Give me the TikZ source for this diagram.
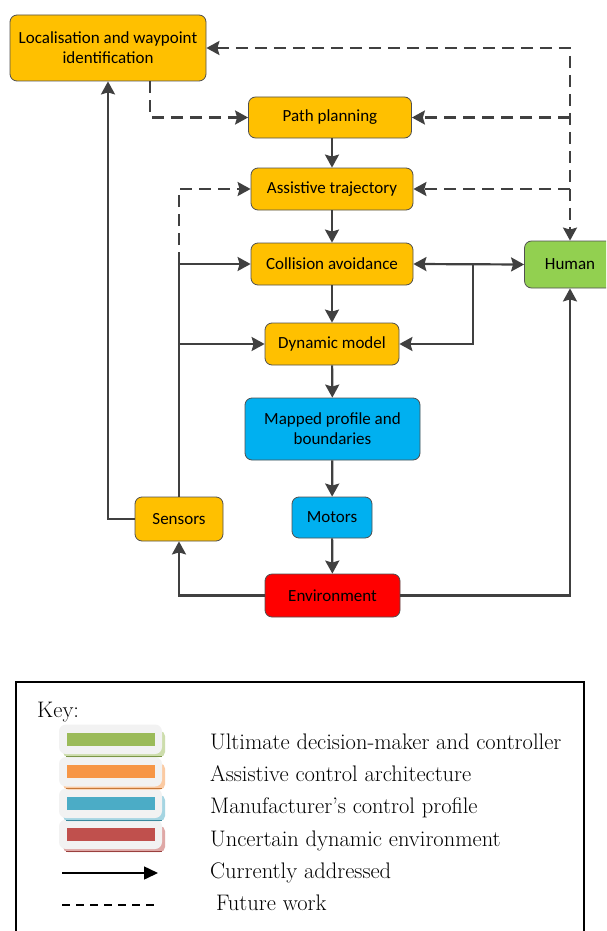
\documentclass[tikz,border=0pt]{standalone}
\usepackage{fontspec}
\setsansfont{Carlito}
\usetikzlibrary{arrows.meta,calc}
\definecolor{ln}{HTML}{404040}
\definecolor{bd}{HTML}{505050}
\definecolor{cyel}{HTML}{FFC000}
\definecolor{cgrn}{HTML}{92D050}
\definecolor{cblu}{HTML}{00B0F0}
\definecolor{cred}{HTML}{FF0000}
\definecolor{kgrn}{HTML}{9BBB59}
\definecolor{kora}{HTML}{F79646}
\definecolor{kblu}{HTML}{4BACC6}
\definecolor{kred}{HTML}{C0504D}
\definecolor{kgray}{HTML}{F2F2F2}
\begin{document}
\begin{tikzpicture}[x=1pt,y=-1pt,
  >={Stealth[length=13pt,width=14pt,inset=2pt]},
  box/.style={draw=bd, line width=0.8pt, rounded corners=7pt, align=center,
    font=\sffamily\fontsize{17}{20}\selectfont, inner sep=0pt},
  cur/.style={draw=ln, line width=2.2pt},
  fut/.style={draw=ln, line width=2.2pt, dash pattern=on 12pt off 7pt},
  keytext/.style={anchor=base west, inner sep=0pt, font=\rmfamily\fontsize{22.5}{26}\selectfont}
]
\clip (0,0) rectangle (606,931);
\fill[white] (0,0) rectangle (606,931);

% nodes
\node[box, fill=cyel, minimum width=196pt, minimum height=66pt] (loc) at (108,48) {Localisation and waypoint\\identification};
\node[box, fill=cyel, minimum width=163pt, minimum height=41pt] (path) at (330,117.5) {Path planning};
\node[box, fill=cyel, minimum width=162pt, minimum height=42pt] (assist) at (332,189) {Assistive trajectory};
\node[box, fill=cyel, minimum width=162pt, minimum height=42pt] (coll) at (332,264) {Collision avoidance};
\node[box, fill=cgrn, minimum width=91pt, minimum height=47pt] (human) at (570,264.5) {Human};
\node[box, fill=cyel, minimum width=134pt, minimum height=42pt] (dyn) at (332,344) {Dynamic model};
\node[box, fill=cblu, minimum width=175pt, minimum height=62pt] (mapped) at (332.5,429) {Mapped profile and\\boundaries};
\node[box, fill=cblu, minimum width=80pt, minimum height=41pt] (motors) at (332,517.5) {Motors};
\node[box, fill=cyel, minimum width=88pt, minimum height=44pt] (sens) at (179,519) {Sensors};
\node[box, fill=cred, minimum width=135pt, minimum height=43pt] (env) at (332.5,595.5) {Environment};

\coordinate (hj) at (570,48);
\coordinate (cj) at (473,264);

% dashed (future work)
\draw[fut,<->] (loc.east) -- (hj) -- (human.north);
\draw[fut,->] (hj |- path.east) -- (path.east);
\draw[fut,->] (hj |- assist.east) -- (assist.east);
\draw[fut,->] ([xshift=42pt]loc.south) |- (path.west);
\draw[fut,->] (sens.north |- coll.west) |- (assist.west);

% solid (currently addressed)
\draw[cur] (sens.north) -- (sens.north |- coll.west);
\draw[cur,->] (sens.north |- coll.west) -- (coll.west);
\draw[cur,->] (sens.north |- dyn.west) -- (dyn.west);
\draw[cur,->] (sens.west) -| (loc.south);
\draw[cur,->] (assist.north |- path.south) -- (assist.north);
\draw[cur,->] (assist) -- (coll);
\draw[cur,->] (coll) -- (dyn);
\draw[cur,->] (dyn) -- (mapped);
\draw[cur,->] (mapped) -- (motors);
\draw[cur,->] (motors) -- (env);
\draw[cur,->] (env.west) -| (sens.south);
\draw[cur,->] (env.east) -| (human.south);
\draw[cur,<->] (coll.east) -- (human.west);
\draw[cur,->] (cj) |- (dyn.east);

% key
\draw[black, line width=1.6pt] (16,682) rectangle (584,990);
\node[keytext] (key) at (37,717) {Key:};
\foreach \c/\yc in {kred/834, kblu/803, kora/771.5, kgrn/739}{
  \fill[\c!50, rounded corners=5pt] (63,\yc-8) rectangle (165,\yc+18);
  \draw[\c!80!black, line width=0.6pt] (66,\yc+17) -- (162,\yc+17);
  \fill[kgray, rounded corners=7pt] (59,\yc-14.5) rectangle (162,\yc+15);
  \fill[\c] (67,\yc-6.5) rectangle (155,\yc+6.5);
}
\node[keytext] (k1) at (210,749) {Ultimate decision-maker and controller};
\node[keytext] (k2) at (210,781.5) {Assistive control architecture};
\node[keytext] (k3) at (210,813.5) {Manufacturer’s control profile};
\node[keytext] (k4) at (210,846) {Uncertain dynamic environment};
\node[keytext] (k5) at (210,878) {Currently addressed};
\node[keytext] (k6) at (216,910.5) {Future work};
\coordinate (a1) at (62,873);
\coordinate (a2) at (158,873);
\draw[black, line width=1.5pt, -{Triangle[length=14pt,width=13pt]}] (a1) -- (a2);
\coordinate (d1) at (62,905);
\coordinate (d2) at (158,905);
\draw[black, line width=1.3pt, dash pattern=on 8pt off 6pt] (d1) -- (d2);
\end{tikzpicture}
\end{document}
